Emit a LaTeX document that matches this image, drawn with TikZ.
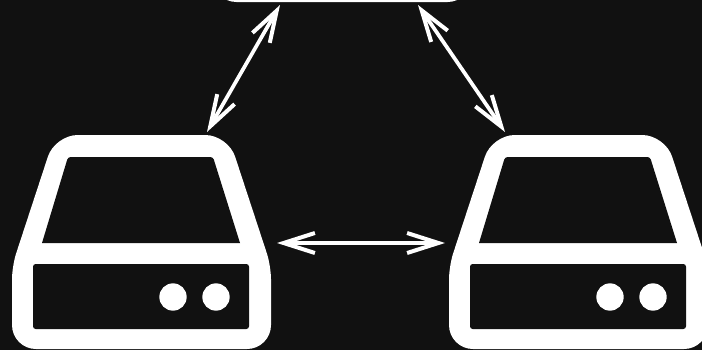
\documentclass[tikz,border=0pt]{standalone}
\usetikzlibrary{arrows.meta}
\definecolor{bgdark}{HTML}{111111}
\tikzset{
  hegy/.tip={Straight Barb[length=23.5pt,width=15pt,line width=3pt]},
  nyil/.style={hegy-hegy,white,line width=2.8pt},
  haz/.style={fill=white},
  lyuk/.style={fill=bgdark},
  led/.style={circle,fill=white,minimum size=20.5pt,inner sep=0pt},
}
\begin{document}
\begin{tikzpicture}[x=0.75pt,y=-0.75pt]
  \fill[bgdark] (0,0) rectangle (702,350);
  \clip (0,0) rectangle (702,350);
  % three drives: top one mostly cut off
  \foreach \name/\dx/\dy in {top/200.5/-347,left/0/0,right/437/0} {
    \begin{scope}[shift={(\dx,\dy)}]
      \path[haz] [rounded corners=17pt] (55,135) -- (228,135) [rounded corners=10pt] -- (271,266)
        [rounded corners=18pt] -- (271,349) -- (12,349) [rounded corners=10pt] -- (12,266)
        [rounded corners=17pt] -- cycle;
      \path[lyuk] [rounded corners=2pt] (68,157) -- (213,157) [sharp corners] -- (240,243) -- (42,243)
        [rounded corners=2pt] -- cycle;
      \path[lyuk,rounded corners=2pt] (33,264) rectangle (249,329);
      \node[led] (\name a) at (173,297) {};
      \node[led] (\name b) at (216,297) {};
    \end{scope}
  }
  \coordinate (topl) at (280,5);
  \coordinate (topr) at (418,5);
  \coordinate (leftt) at (207,132);
  \coordinate (rightt) at (505,132);
  \coordinate (leftm) at (277,243);
  \coordinate (rightm) at (445,243);
  \draw[nyil] (leftt) -- (topl);
  \draw[nyil] (topr) -- (rightt);
  \draw[nyil] (leftm) -- (rightm);
\end{tikzpicture}
\end{document}
